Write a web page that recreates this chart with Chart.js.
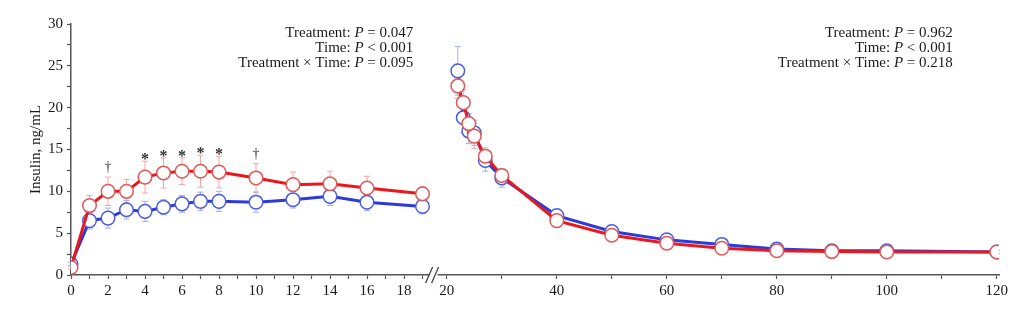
<!DOCTYPE html>
<html>
<head>
<meta charset="utf-8">
<script src="https://cdn.jsdelivr.net/npm/chart.js@4.4.1/dist/chart.umd.min.js"></script>
<style>
  html, body { margin: 0; padding: 0; background: #fff; }
</style>
</head>
<body>
<canvas id="insulin" width="1024" height="322"></canvas>
<script>
// infusion phase (min 0-19) and post-infusion phase (min 22-120)
const timeEarly = [0, 1, 2, 3, 4, 5, 6, 7, 8, 10, 12, 14, 16, 19];
const redEarly = [0.9, 8.3, 10.0, 10.0, 11.7, 12.2, 12.4, 12.4, 12.3, 11.6, 10.8, 10.9, 10.4, 9.7];
const redEarlySd = [0.2, 1.2, 1.7, 1.4, 1.9, 1.8, 1.6, 1.9, 1.9, 1.7, 1.5, 1.5, 1.4, 0.9];
const blueEarly = [1.3, 6.5, 6.8, 7.8, 7.6, 8.1, 8.5, 8.8, 8.8, 8.7, 9.0, 9.4, 8.7, 8.2];
const blueEarlySd = [0.2, 1.0, 1.2, 1.1, 1.2, 0.9, 1.0, 1.1, 1.2, 1.2, 1.0, 1.1, 1.0, 0.9];

const timeLate = [22, 23, 24, 25, 27, 30, 40, 50, 60, 70, 80, 90, 100, 120];
const redLate = [22.6, 20.6, 18.1, 16.6, 14.2, 11.9, 6.5, 4.75, 3.8, 3.2, 2.9, 2.8, 2.75, 2.75];
const redLateSd = [1.5, 1.5, 1.2, 1.5, 1.0, 0.8, 0.4, 0.3, 0.3, 0.2, 0.2, 0.2, 0.2, 0.2];
const blueLate = [24.4, 18.8, 17.2, 17.0, 13.7, 11.6, 7.1, 5.2, 4.2, 3.65, 3.1, 2.9, 2.9, 2.75];
const blueLateSd = [2.9, 1.8, 1.5, 1.5, 1.3, 1.1, 0.4, 0.4, 0.3, 0.3, 0.3, 0.2, 0.2, 0.2];

const sigTimes = [2, 4, 5, 6, 7, 8, 10];
const sigMarks = ['†', '*', '*', '*', '*', '*', '†'];

const pEarly = ['0.047', '0.001', '0.095'];
const pLate = ['0.962', '0.001', '0.218'];

const SERIF = '"Liberation Serif", "Times New Roman", serif';
const RED = '#ea171c', RED_PT = '#e05858', RED_ERR = '#f0a6a6';
const BLUE = '#2b3bd7', BLUE_PT = '#4a5ce2', BLUE_ERR = '#a6aee8';

function pts(xs, ys) {
  return xs.map((x, i) => ({ x: x, y: ys[i] }));
}

function series(label, xs, ys, sd, axis, line, pt, err) {
  return {
    label: label,
    data: pts(xs, ys),
    sd: sd,
    errColor: err,
    xAxisID: axis,
    yAxisID: 'y',
    borderColor: line,
    borderWidth: 3,
    pointRadius: 6.8,
    pointBorderWidth: 1.5,
    pointBorderColor: pt,
    pointBackgroundColor: '#fff',
    tension: 0,
    fill: false
  };
}

const errorBars = {
  id: 'errorBars',
  beforeDatasetsDraw(chart) {
    const ctx = chart.ctx;
    const y = chart.scales.y;
    chart.data.datasets.forEach((ds, di) => {
      const meta = chart.getDatasetMeta(di);
      ctx.save();
      ctx.strokeStyle = ds.errColor;
      ctx.lineWidth = 1;
      meta.data.forEach((p, i) => {
        const v = ds.data[i].y, s = ds.sd[i];
        const top = y.getPixelForValue(v + s);
        const bot = y.getPixelForValue(v - s);
        ctx.beginPath();
        ctx.moveTo(p.x, top); ctx.lineTo(p.x, bot);
        ctx.moveTo(p.x - 3, top); ctx.lineTo(p.x + 3, top);
        ctx.moveTo(p.x - 3, bot); ctx.lineTo(p.x + 3, bot);
        ctx.stroke();
      });
      ctx.restore();
    });
  }
};

const sigLabels = {
  id: 'sigLabels',
  afterDatasetsDraw(chart) {
    const ctx = chart.ctx;
    const x = chart.scales.xEarly, y = chart.scales.y;
    ctx.save();
    ctx.fillStyle = '#333';
    ctx.textAlign = 'center';
    ctx.textBaseline = 'alphabetic';
    sigTimes.forEach((t, k) => {
      const i = timeEarly.indexOf(t);
      const cap = y.getPixelForValue(redEarly[i] + redEarlySd[i]);
      if (sigMarks[k] === '*') {
        ctx.font = 'bold 16px ' + SERIF;
        ctx.fillText('*', x.getPixelForValue(t), cap + 3);
      } else {
        ctx.font = '14px ' + SERIF;
        ctx.fillText('†', x.getPixelForValue(t), cap - 6);
      }
    });
    ctx.restore();
  }
};

function richRight(ctx, parts, right, baseline) {
  const fonts = parts.map(p => (p[1] ? 'italic ' : '') + '15px ' + SERIF);
  const widths = parts.map((p, i) => { ctx.font = fonts[i]; return ctx.measureText(p[0]).width; });
  let xPos = right - widths.reduce((a, b) => a + b, 0);
  parts.forEach((p, i) => {
    ctx.font = fonts[i];
    ctx.fillText(p[0], xPos, baseline);
    xPos += widths[i];
  });
}

const pValues = {
  id: 'pValues',
  afterDraw(chart) {
    const ctx = chart.ctx;
    const top = chart.chartArea.top;
    ctx.save();
    ctx.fillStyle = '#1a1a1a';
    ctx.textAlign = 'left';
    ctx.textBaseline = 'alphabetic';
    [[chart.scales.xEarly.getPixelForValue(18.5), pEarly],
     [chart.scales.xLate.getPixelForValue(112), pLate]].forEach(([right, ps]) => {
      richRight(ctx, [['Treatment: ', false], ['P', true], [' = ' + ps[0], false]], right, top + 13);
      richRight(ctx, [['Time: ', false], ['P', true], [' < ' + ps[1], false]], right, top + 28);
      richRight(ctx, [['Treatment × Time: ', false], ['P', true], [' = ' + ps[2], false]], right, top + 43);
    });
    ctx.restore();
  }
};

const axisBreak = {
  id: 'axisBreak',
  afterDraw(chart) {
    const ctx = chart.ctx;
    const b = chart.scales.xEarly.right;
    const yb = chart.chartArea.bottom;
    ctx.save();
    ctx.fillStyle = '#fff';
    ctx.fillRect(b - 4, yb - 3, 8, 6);
    ctx.strokeStyle = '#444';
    ctx.lineWidth = 1.3;
    ctx.beginPath();
    ctx.moveTo(b - 8, yb + 8); ctx.lineTo(b - 1, yb - 8);
    ctx.moveTo(b - 2, yb + 8); ctx.lineTo(b + 5, yb - 8);
    ctx.stroke();
    ctx.restore();
  }
};

function xAxis(min, max, weight, step, labelEvery) {
  return {
    type: 'linear',
    position: 'bottom',
    stack: 'time',
    stackWeight: weight,
    min: min,
    max: max,
    border: { display: true, color: '#555', width: 1.5 },
    grid: { drawOnChartArea: false, drawTicks: true, tickLength: 4, tickColor: '#555', tickWidth: 1.2 },
    ticks: {
      stepSize: step,
      includeBounds: false,
      autoSkip: false,
      maxRotation: 0,
      padding: 3,
      color: '#1a1a1a',
      font: { family: SERIF, size: 15 },
      callback: v => (v % labelEvery === 0 ? v : '')
    },
    afterFit: s => { s.height = 30; }
  };
}

new Chart(document.getElementById('insulin'), {
  type: 'line',
  data: {
    datasets: [
      series('Red, 0-19 min', timeEarly, redEarly, redEarlySd, 'xEarly', RED, RED_PT, RED_ERR),
      series('Red, 22-120 min', timeLate, redLate, redLateSd, 'xLate', RED, RED_PT, RED_ERR),
      series('Blue, 0-19 min', timeEarly, blueEarly, blueEarlySd, 'xEarly', BLUE, BLUE_PT, BLUE_ERR),
      series('Blue, 22-120 min', timeLate, blueLate, blueLateSd, 'xLate', BLUE, BLUE_PT, BLUE_ERR)
    ]
  },
  options: {
    responsive: false,
    animation: false,
    layout: { padding: { left: 0, right: 25, top: 24, bottom: 17 } },
    plugins: { legend: { display: false }, tooltip: { enabled: false } },
    scales: {
      xEarly: xAxis(0, 19.6, 362.6, 1, 2),
      xLate: xAxis(17.6, 120.4, 565.4, 10, 20),
      y: {
        min: 0,
        max: 30,
        border: { display: true, color: '#555', width: 1.5 },
        grid: { drawOnChartArea: false, drawTicks: true, tickLength: 4, tickColor: '#555', tickWidth: 1.2 },
        ticks: {
          stepSize: 2.5,
          autoSkip: false,
          padding: 4,
          color: '#1a1a1a',
          font: { family: SERIF, size: 15 },
          callback: v => (v % 5 === 0 ? v : '')
        },
        title: {
          display: true,
          text: 'Insulin, ng/mL',
          color: '#1a1a1a',
          font: { family: SERIF, size: 15 },
          padding: { top: 27, bottom: 0 }
        },
        afterFit: s => { s.width = 71; }
      }
    }
  },
  plugins: [errorBars, sigLabels, pValues, axisBreak]
});
</script>
</body>
</html>
